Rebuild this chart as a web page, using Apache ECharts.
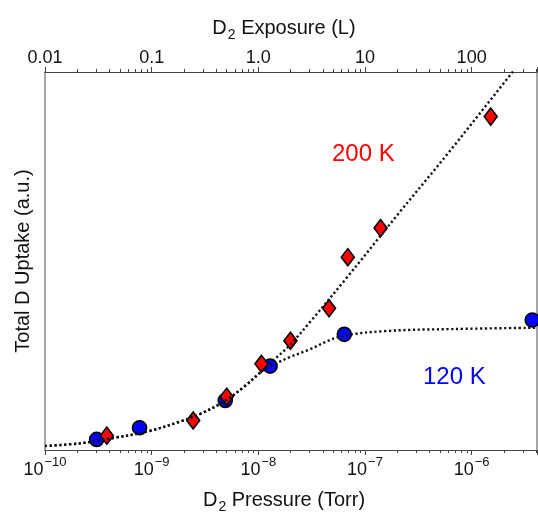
<!DOCTYPE html>
<html>
<head>
<meta charset="utf-8">
<script src="https://cdn.jsdelivr.net/npm/echarts@6/dist/echarts.min.js"></script>
<style>
  html, body { margin: 0; padding: 0; background: #fff; }
  #chart { width: 538px; height: 515px; }
</style>
</head>
<body>
<div id="chart"></div>
<script>
// Measured D uptake (arbitrary units) versus D2 pressure (Torr)
const pressure120 = [3.05e-10, 7.7e-10, 4.9e-9, 1.29e-8, 6.4e-8, 3.7e-6];
const uptake120   = [2.8, 5.9, 13.1, 22.2, 30.6, 34.4];

const pressure200 = [3.8e-10, 2.45e-9, 5.05e-9, 1.07e-8, 2.0e-8, 4.6e-8, 6.9e-8, 1.4e-7, 1.51e-6];
const uptake200   = [3.8, 7.8, 14.1, 22.8, 28.9, 37.5, 51.0, 58.7, 88.2];

// Guide-to-the-eye curves through each data set
const fitP120 = [1e-10, 2.13e-10, 4.34e-10, 8.98e-10, 1.84e-9, 2.84e-9, 4.86e-9, 7.49e-9, 1.08e-8,
                 1.28e-8, 1.98e-8, 2.84e-8, 5.82e-8, 1.59e-7, 6.71e-7, 4.1e-6];
const fitY120 = [1.06, 1.77, 3.17, 4.84, 7.49, 9.52, 12.96, 16.93, 20.9,
                 22.1, 24.6, 26.27, 29.97, 31.48, 32.0, 32.35];

const fitP200 = [1e-10, 2.13e-10, 4.34e-10, 8.98e-10, 1.84e-9, 2.84e-9, 4.86e-9, 7.49e-9, 1.08e-8,
                 1.43e-8, 1.98e-8, 3.05e-8, 6.48e-8, 2.12e-7, 6.25e-7, 2.38e-6, 2.83e-6];
const fitY200 = [1.06, 1.77, 3.17, 4.84, 7.49, 9.52, 12.96, 16.93, 20.9,
                 24.07, 27.78, 33.86, 44.97, 62.96, 79.1, 99.74, 102.4];

// Axis ranges: pressure (Torr) and the matching exposure (L)
const pressureMin = 1e-10, pressureMax = 4.1e-6;
const exposureMin = 0.01,  exposureMax = 410;
const uptakeMin = 0, uptakeMax = 100;

const pressureExponents = [-10, -9, -8, -7, -6];
const exposureLabels = { '-2': '0.01', '-1': '0.1', '0': '1.0', '1': '10', '2': '100' };

// Minor ticks at 2..9 within each decade
const minorTicks = [
  2e-10, 3e-10, 4e-10, 5e-10, 6e-10, 7e-10, 8e-10, 9e-10,
  2e-9, 3e-9, 4e-9, 5e-9, 6e-9, 7e-9, 8e-9, 9e-9,
  2e-8, 3e-8, 4e-8, 5e-8, 6e-8, 7e-8, 8e-8, 9e-8,
  2e-7, 3e-7, 4e-7, 5e-7, 6e-7, 7e-7, 8e-7, 9e-7,
  2e-6, 3e-6, 4e-6
];

const FONT = '"Liberation Sans", Arial, Helvetica, sans-serif';
const AXIS_DARK = '#444';
const AXIS_GREY = '#888';

function zip(xs, ys) { return xs.map((x, i) => [x, ys[i]]); }

function decadeOf(v) {
  const e = Math.log10(v);
  const r = Math.round(e);
  return Math.abs(e - r) < 1e-6 ? r : null;
}

const chart = echarts.init(document.getElementById('chart'), null, { renderer: 'canvas' });

const dotted = { color: '#111', width: 2.4, type: [2.2, 2.6], cap: 'butt' };

chart.setOption({
  animation: false,
  backgroundColor: '#fff',
  textStyle: { fontFamily: FONT },
  grid: { left: 45, right: 1, top: 72, bottom: 65, containLabel: false, outerBoundsMode: 'none' },
  xAxis: [
    {
      type: 'log', logBase: 10, min: pressureMin, max: pressureMax, position: 'bottom',
      splitNumber: 5,
      axisLine: { show: true, onZero: false, lineStyle: { color: AXIS_DARK, width: 1.2 } },
      axisTick: { show: true, length: 5, lineStyle: { color: AXIS_DARK } },
      splitLine: { show: false },
      axisLabel: {
        margin: 6, color: '#111', fontFamily: FONT,
        formatter: function (v) {
          const d = decadeOf(v);
          if (d === null || pressureExponents.indexOf(d) < 0) return '';
          return '{b|10}{s|\u2212' + Math.abs(d) + '}';
        },
        rich: {
          b: { fontSize: 18, fontFamily: FONT, color: '#111' },
          s: { fontSize: 13, fontFamily: FONT, color: '#111', padding: [0, 0, 16, 1] }
        }
      },
      name: '{t|D}{sub|2}{t| Pressure (Torr)}',
      nameLocation: 'middle', nameGap: 36,
      nameTextStyle: {
        padding: [0, 14, 0, 0],
        rich: {
          t: { fontSize: 20, fontFamily: FONT, color: '#111' },
          sub: { fontSize: 14, fontFamily: FONT, color: '#111', padding: [14, 0, 0, 1] }
        }
      }
    },
    {
      type: 'log', logBase: 10, min: exposureMin, max: exposureMax, position: 'top',
      splitNumber: 5,
      axisLine: { show: true, onZero: false, lineStyle: { color: AXIS_DARK, width: 1.2 } },
      axisTick: { show: true, length: 5, lineStyle: { color: AXIS_DARK } },
      splitLine: { show: false },
      axisLabel: {
        margin: 5, color: '#111', fontSize: 18, fontFamily: FONT,
        formatter: function (v) {
          const d = decadeOf(v);
          if (d === null) return '';
          return exposureLabels[String(d)] || '';
        }
      },
      name: '{t|D}{sub|2}{t| Exposure (L)}',
      nameLocation: 'middle', nameGap: 30,
      nameTextStyle: {
        padding: [0, 14, 0, 0],
        rich: {
          t: { fontSize: 20, fontFamily: FONT, color: '#111' },
          sub: { fontSize: 14, fontFamily: FONT, color: '#111', padding: [14, 0, 0, 1] }
        }
      }
    }
  ],
  yAxis: [
    {
      type: 'value', min: uptakeMin, max: uptakeMax, position: 'left',
      axisLine: { show: true, onZero: false, lineStyle: { color: AXIS_GREY, width: 1.5 } },
      axisTick: { show: false }, axisLabel: { show: false }, splitLine: { show: false },
      name: 'Total D Uptake (a.u.)',
      nameLocation: 'middle', nameGap: 12, nameRotate: 90,
      nameTextStyle: { fontSize: 20, fontFamily: FONT, color: '#111' }
    },
    {
      type: 'value', min: uptakeMin, max: uptakeMax, position: 'right',
      axisLine: { show: true, onZero: false, lineStyle: { color: AXIS_GREY, width: 1.5 } },
      axisTick: { show: false }, axisLabel: { show: false }, splitLine: { show: false }
    }
  ],
  graphic: [
    { type: 'text', left: 332, top: 142, z: 20,
      style: { text: '200 K', fill: '#ff0000', font: '24px ' + FONT } },
    { type: 'text', left: 423, top: 365, z: 20,
      style: { text: '120 K', fill: '#0000ff', font: '24px ' + FONT } }
  ],
  series: [
    {
      // minor ticks on the bottom and top pressure/exposure axes
      type: 'custom', xAxisIndex: 0, yAxisIndex: 0, clip: false, silent: true, z: 1,
      data: minorTicks.map(v => [v, uptakeMin]),
      renderItem: function (params, api) {
        const v = api.value(0);
        const b = api.coord([v, uptakeMin]);
        const t = api.coord([v, uptakeMax]);
        const xb = Math.round(b[0]) + 0.5;
        return {
          type: 'group',
          children: [
            { type: 'line', shape: { x1: xb, y1: b[1], x2: xb, y2: b[1] + 3 },
              style: { stroke: AXIS_DARK, lineWidth: 1 } },
            { type: 'line', shape: { x1: xb, y1: t[1], x2: xb, y2: t[1] - 3 },
              style: { stroke: AXIS_DARK, lineWidth: 1 } }
          ]
        };
      }
    },
    {
      name: '120 K', type: 'scatter', xAxisIndex: 0, yAxisIndex: 0, z: 3, clip: false,
      data: zip(pressure120, uptake120),
      symbol: 'circle', symbolSize: 14,
      itemStyle: { color: '#0000ff', borderColor: '#000', borderWidth: 1.6, opacity: 1 }
    },
    {
      name: '200 K', type: 'scatter', xAxisIndex: 0, yAxisIndex: 0, z: 4, clip: false,
      data: zip(pressure200, uptake200),
      symbol: 'diamond', symbolSize: [13, 17],
      itemStyle: { color: '#ff0000', borderColor: '#000', borderWidth: 1.6, opacity: 1 }
    },
    {
      name: '120 K fit', type: 'line', xAxisIndex: 0, yAxisIndex: 0, z: 6,
      data: zip(fitP120, fitY120), showSymbol: false, symbol: 'none', smooth: 0.35,
      lineStyle: dotted, clip: true
    },
    {
      name: '200 K fit', type: 'line', xAxisIndex: 0, yAxisIndex: 0, z: 6,
      data: zip(fitP200, fitY200), showSymbol: false, symbol: 'none', smooth: 0.35,
      lineStyle: dotted, clip: true
    }
  ]
});
</script>
</body>
</html>
